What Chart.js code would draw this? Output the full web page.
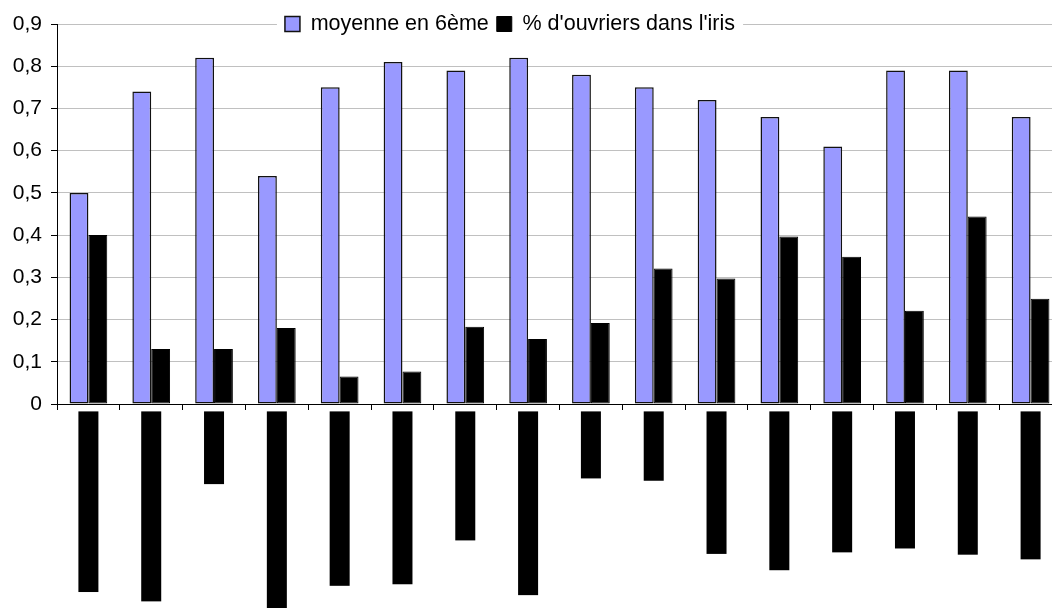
<!DOCTYPE html>
<html>
<head>
<meta charset="utf-8">
<script src="https://cdn.jsdelivr.net/npm/chart.js@4/dist/chart.umd.min.js"></script>
<style>
    html, body { margin: 0; padding: 0; background: #fff; overflow: hidden; }
    #wrap { width: 1062px; height: 608px; }
</style>
</head>
<body>
<div id="wrap"><canvas id="chart"></canvas></div>
<script>
//categories (the names sit under black boxes in the original)
var quartiers = [
    "Les Coteaux de Saint-Martin",
    "Faubourg Saint-Jacques Nord",
    "Les Tilleuls",
    "Quartier du Plateau de Bellevue Est",
    "Beaulieu Saint-Jacques Est",
    "Le Plateau de Champfleury",
    "Le Vieux Montplaisir",
    "Faubourg Saint-Martin Ouest",
    "La Source",
    "Les Roses",
    "Rive Gauche Beaulieu",
    "Centre-ville Rive Gauche",
    "La Prairie de Beaulieu",
    "Le Bourg de Bellevue",
    "Les Hauts de Bellevue",
    "Le Plateau Saint-Pierre"
];
//series
var seriesNames = ["moyenne en 6ème", "% d'ouvriers dans l'iris"];
var moyenne6eme = [0.50, 0.74, 0.82, 0.54, 0.75, 0.81, 0.79, 0.82, 0.78, 0.75, 0.72, 0.68, 0.61, 0.79, 0.79, 0.68];
var partOuvriers = [0.40, 0.13, 0.13, 0.18, 0.065, 0.077, 0.183, 0.154, 0.192, 0.321, 0.297, 0.397, 0.349, 0.221, 0.444, 0.249];
//y axis
var yMin = 0;
var yMax = 0.9;
var yStep = 0.1;

Chart.defaults.font.family = "'Liberation Sans', Arial, sans-serif";
Chart.defaults.color = "#000";

//legend drawn on top of the plot, over the first gridline, like the excel one
var legendOnPlot = {
    id: "legendOnPlot",
    beforeLayout(chart){
        var lg = chart.legend;
        if(lg && !lg._onPlot){
            var fit = lg.fit;
            lg.fit = function(){
                fit.call(this);
                this._fullHeight = this.height;
                this.height = 0;
            };
            lg._onPlot = true;
        }
    },
    afterLayout(chart, args, opts){
        var lg = chart.legend;
        var pad = lg.options.labels.padding;
        var size = Chart.helpers.toFont(lg.options.labels.font).size;
        lg.top = chart.chartArea.top - pad - size / 2;
        lg.height = lg._fullHeight;
        lg.bottom = lg.top + lg.height;
        lg.left += opts.shift;
        lg.right += opts.shift;
    },
    beforeDatasetsDraw(chart){
        var lg = chart.legend;
        var ctx = chart.ctx;
        var l = Infinity, r = -Infinity, t = Infinity, b = -Infinity;
        lg.legendHitBoxes.forEach(function(h){
            l = Math.min(l, h.left);
            r = Math.max(r, h.left + h.width);
            t = Math.min(t, h.top);
            b = Math.max(b, h.top + h.height);
        });
        ctx.save();
        ctx.fillStyle = "#fff";
        ctx.fillRect(l - 8, t - 2, r - l + 16, b - t + 4);
        ctx.restore();
        lg.draw();
    }
};

function tickLabel(value){
    if(value === 0){
        return "0";
    }
    return value.toFixed(1).replace(".", ",");
}

new Chart(document.getElementById("chart"), {
    type: "bar",
    data: {
        labels: quartiers,
        datasets: [{
            label: seriesNames[0],
            data: moyenne6eme,
            backgroundColor: "#9999ff",
            borderColor: "#111",
            borderWidth: 1.5,
            borderSkipped: false,
            categoryPercentage: 0.6,
            barPercentage: 1
        }, {
            label: seriesNames[1],
            data: partOuvriers,
            backgroundColor: "#000",
            borderColor: "#000",
            borderWidth: 1,
            borderSkipped: false,
            categoryPercentage: 0.6,
            barPercentage: 1
        }]
    },
    options: {
        responsive: true,
        maintainAspectRatio: false,
        animation: false,
        layout: { padding: { top: 24, left: 0, right: 0, bottom: 0 } },
        plugins: {
            tooltip: { enabled: false },
            legend: {
                position: "top",
                labels: {
                    boxWidth: 15,
                    boxHeight: 15,
                    padding: 8,
                    color: "#000",
                    font: { size: 21.5 }
                }
            },
            legendOnPlot: { shift: -21 }
        },
        scales: {
            x: {
                grid: {
                    display: true,
                    drawOnChartArea: false,
                    drawTicks: true,
                    tickLength: 6,
                    tickColor: "#000",
                    offset: true
                },
                border: { color: "#000", width: 1 },
                ticks: {
                    autoSkip: false,
                    minRotation: 90,
                    maxRotation: 90,
                    padding: 3,
                    labelOffset: -8.4,
                    color: "#000",
                    font: { size: 14 },
                    showLabelBackdrop: true,
                    backdropColor: "#000",
                    backdropPadding: 1.6
                },
                afterFit: function(scale){ scale.height = 204; }
            },
            y: {
                min: yMin,
                max: yMax,
                grid: {
                    color: "#c0c0c0",
                    tickColor: "#000",
                    tickLength: 6
                },
                border: { color: "#000", width: 1 },
                ticks: {
                    stepSize: yStep,
                    padding: 9,
                    color: "#000",
                    font: { size: 21 },
                    callback: tickLabel
                },
                afterFit: function(scale){ scale.width = 57; }
            }
        }
    },
    plugins: [legendOnPlot]
});
</script>
</body>
</html>
